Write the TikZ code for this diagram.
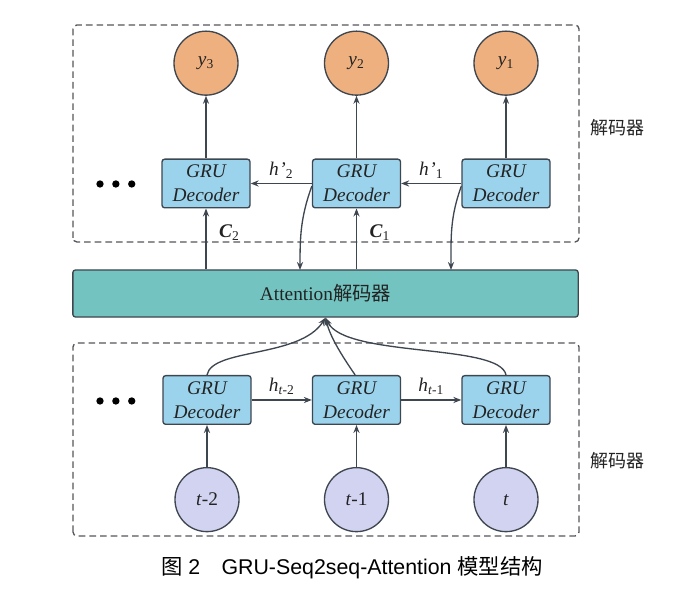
\documentclass[tikz,border=0pt]{standalone}
\usepackage{fontspec}
\setmainfont{Liberation Serif}
\newfontfamily\cjk{Noto Sans CJK SC}
\newfontfamily\capfont{Liberation Sans}
\usetikzlibrary{positioning,arrows.meta}

\definecolor{linegray}{RGB}{62,70,80}
\definecolor{boxgray}{RGB}{85,85,92}
\definecolor{grublue}{RGB}{155,211,236}
\definecolor{attteal}{RGB}{115,196,193}
\definecolor{outorange}{RGB}{238,176,126}
\definecolor{inlavender}{RGB}{210,211,240}
\definecolor{txtgray}{RGB}{35,35,35}

\begin{document}
\begin{tikzpicture}[
        x=0.75pt, y=0.75pt,
        >={Stealth[length=6pt,width=4.6pt]},
        gru/.style={draw=linegray, fill=grublue, rounded corners=2pt, line width=1pt,
            minimum width=66pt, minimum height=36.5pt, inner sep=0pt, align=center,
            font=\fontsize{14.5pt}{18pt}\selectfont\itshape, text=txtgray},
        outc/.style={circle, draw=linegray, fill=outorange, line width=1pt,
            minimum size=48pt, inner sep=0pt, font=\fontsize{14.5pt}{18pt}\selectfont, text=txtgray},
        inc/.style={outc, fill=inlavender},
        grp/.style={draw=boxgray, line width=1pt, dash pattern=on 5pt off 3pt, rounded corners=3pt},
        link/.style={->, draw=linegray, line width=1pt},
        lbl/.style={font=\fontsize{14.5pt}{18pt}\selectfont, text=txtgray},
        dot/.style={circle, fill=black, minimum size=5.5pt, inner sep=0pt}
    ]
        \useasboundingbox (0,0) rectangle (694,598);

        % Groups
        \draw[grp] (73,356) rectangle (579,573);
        \draw[grp] (73,62) rectangle (579,255);
        \node[font=\fontsize{13.5pt}{16pt}\selectfont\cjk, text=txtgray] (lbltop) at (617,470) {解码器};
        \node[font=\fontsize{13.5pt}{16pt}\selectfont\cjk, text=txtgray] (lblbot) at (617,137) {解码器};

        % Attention
        \node[draw=linegray, fill=attteal, rounded corners=2pt, line width=1pt,
            minimum width=379pt, minimum height=35.3pt, inner sep=0pt,
            font=\fontsize{14.5pt}{18pt}\selectfont, text=txtgray] (att) at (325.5,304.5) {Attention{\cjk 解码器}};

        % Decoder row
        \node[gru] (dec3) at (206,414.5) {GRU\\Decoder};
        \node[gru] (dec2) at (356.5,414.5) {GRU\\Decoder};
        \node[gru] (dec1) at (506,414.5) {GRU\\Decoder};
        \node[outc, above=47pt of dec3] (y3) {\textit{y}\textsubscript{3}};
        \node[outc, above=47pt of dec2] (y2) {\textit{y}\textsubscript{2}};
        \node[outc, above=47pt of dec1] (y1) {\textit{y}\textsubscript{1}};
        \node[dot] (td1) at (100,414) {};
        \node[dot, right=6pt of td1] (td2) {};
        \node[dot, right=6pt of td2] (td3) {};

        % Encoder row
        \node[gru] (enc2) at (207,198) {GRU\\Decoder};
        \node[gru] (enc1) at (356.5,198) {GRU\\Decoder};
        \node[gru] (enc0) at (506,198) {GRU\\Decoder};
        \node[inc, below=31.5pt of enc2] (x2) {\textit{t}-2};
        \node[inc, below=31.5pt of enc1] (x1) {\textit{t}-1};
        \node[inc, below=31.5pt of enc0] (x0) {\textit{t}};
        \node[dot] (bd1) at (100,197) {};
        \node[dot, right=6pt of bd1] (bd2) {};
        \node[dot, right=6pt of bd2] (bd3) {};

        \coordinate (in2) at (300,328);
        \coordinate (in1) at (451,328);

        % Arrows
        \draw[link] (dec3) -- (y3);
        \draw[link] (dec2) -- (y2);
        \draw[link] (dec1) -- (y1);
        \draw[link] (dec1) -- node[lbl, above] {\textit{h}\kern0.5pt\textit{'}\textsubscript{1}} (dec2);
        \draw[link] (dec2) -- node[lbl, above] {\textit{h}\kern0.5pt\textit{'}\textsubscript{2}} (dec3);
        \draw[link] (att.north -| dec3) -- node[lbl, right=6pt, pos=0.6] {{\bfseries\itshape C}\textsubscript{2}} (dec3.south);
        \draw[link] (att.north -| dec2) -- node[lbl, right=6pt, pos=0.6] {{\bfseries\itshape C}\textsubscript{1}} (dec2.south);
        \draw[link] ([yshift=-2pt]dec2.west) to[out=250, in=90] (in2);
        \draw[link] ([yshift=-2pt]dec1.west) to[out=250, in=90] (in1);

        \draw[link] (x2) -- (enc2);
        \draw[link] (x1) -- (enc1);
        \draw[link] (x0) -- (enc0);
        \draw[link] (enc2) -- node[lbl, above] {\textit{h}\textsubscript{\textit{t}-2}} (enc1);
        \draw[link] (enc1) -- node[lbl, above] {\textit{h}\textsubscript{\textit{t}-1}} (enc0);
        \draw[link] (enc2.north) .. controls (212,250) and (300,240) .. (att.south);
        \draw[link] ([xshift=-1pt]enc1.north) .. controls (340,245) and (330,262) .. (att.south);
        \draw[link] (enc0.north) .. controls (500,255) and (345,240) .. (att.south);

        % Caption
        \node[font=\fontsize{16pt}{19pt}\selectfont\capfont, text=black] (cap) at (352,30)
            {{\cjk 图} 2\quad GRU-Seq2seq-Attention {\cjk 模型结构}};
\end{tikzpicture}
\end{document}
